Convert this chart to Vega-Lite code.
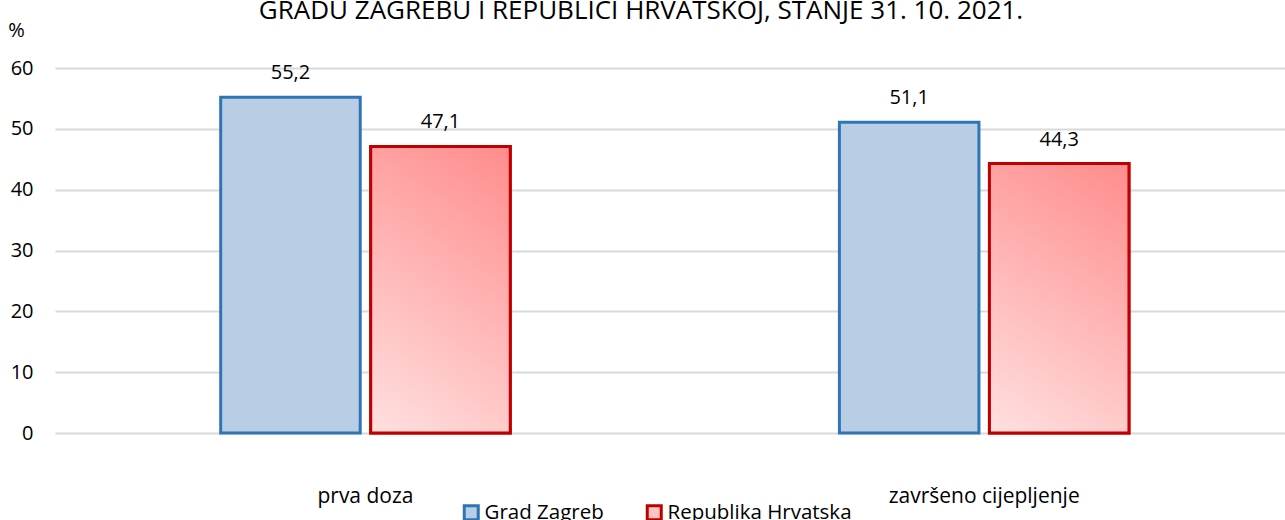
{
  "$schema": "https://vega.github.io/schema/vega-lite/v6.json",
  "width": 1230,
  "height": 365,
  "autosize": "none",
  "padding": {"left": 55, "top": 68, "right": 0, "bottom": 87},
  "background": "white",
  "title": {
    "text": "GRADU ZAGREBU I REPUBLICI HRVATSKOJ, STANJE 31. 10. 2021.",
    "font": "Open Sans",
    "fontSize": 26,
    "fontWeight": "normal",
    "color": "#000000",
    "anchor": "middle",
    "frame": "group",
    "dx": -29,
    "dy": 4,
    "offset": 0
  },
  "config": {
    "view": {"stroke": null},
    "font": "Open Sans",
    "locale": {"number": {"decimal": ",", "thousands": ".", "grouping": [3], "currency": ["", " €"]}}
  },
  "data": {
    "values": [
      {"kategorija": "prva doza", "serija": "Grad Zagreb", "postotak": 55.2},
      {"kategorija": "prva doza", "serija": "Republika Hrvatska", "postotak": 47.1},
      {"kategorija": "završeno cijepljenje", "serija": "Grad Zagreb", "postotak": 51.1},
      {"kategorija": "završeno cijepljenje", "serija": "Republika Hrvatska", "postotak": 44.3}
    ]
  },
  "encoding": {
    "x": {
      "field": "kategorija",
      "type": "nominal",
      "sort": ["prva doza", "završeno cijepljenje"],
      "scale": {"paddingInner": 0.532, "paddingOuter": 0.26, "align": 0.515},
      "axis": {
        "title": null,
        "labelAngle": 0,
        "domain": false,
        "ticks": false,
        "labelPadding": 52,
        "labelLimit": 0,
        "labelFont": "Open Sans",
        "labelFontSize": 21,
        "labelColor": "#000000",
        "labelBaseline": "top"
      }
    },
    "xOffset": {
      "field": "serija",
      "type": "nominal",
      "sort": ["Grad Zagreb", "Republika Hrvatska"],
      "scale": {"paddingInner": 0.07, "paddingOuter": 0}
    },
    "y": {
      "field": "postotak",
      "type": "quantitative",
      "scale": {"domain": [0, 60], "nice": false},
      "axis": {
        "values": [0, 10, 20, 30, 40, 50, 60],
        "format": "d",
        "title": "%",
        "titleAngle": 0,
        "titleX": -39,
        "titleY": -38,
        "titleAlign": "center",
        "titleBaseline": "middle",
        "titleFont": "Open Sans",
        "titleFontSize": 20,
        "titleFontWeight": "normal",
        "titleColor": "#000000",
        "domain": false,
        "ticks": false,
        "labelPadding": 22,
        "labelFont": "Open Sans",
        "labelFontSize": 20,
        "labelColor": "#000000",
        "gridColor": "#D9D9D9",
        "gridWidth": 2
      }
    }
  },
  "layer": [
    {
      "mark": {"type": "bar", "strokeWidth": 3},
      "encoding": {
        "fill": {
          "field": "serija",
          "type": "nominal",
          "scale": {"domain": ["Grad Zagreb", "Republika Hrvatska"], "range": ["#B9CDE5", "#FFC4C4"]},
          "legend": {
            "title": null,
            "orient": "none",
            "direction": "horizontal",
            "legendX": 406,
            "legendY": 434,
            "symbolType": "square",
            "symbolSize": 196,
            "symbolStrokeWidth": 3,
            "labelFont": "Open Sans",
            "labelFontSize": 20.5,
            "labelColor": "#000000",
            "labelLimit": 0,
            "columnPadding": 37,
            "labelOffset": 3
          }
        },
        "stroke": {
          "field": "serija",
          "type": "nominal",
          "scale": {"domain": ["Grad Zagreb", "Republika Hrvatska"], "range": ["#2E75B6", "#C00000"]}
        }
      }
    },
    {
      "transform": [{"filter": "datum.serija === 'Republika Hrvatska'"}],
      "mark": {
        "type": "bar",
        "strokeWidth": 3,
        "stroke": "#C00000",
        "fill": {
          "gradient": "linear",
          "x1": 0,
          "y1": 1,
          "x2": 0.4,
          "y2": -0.2,
          "stops": [
            {"offset": 0, "color": "#FFE0E0"},
            {"offset": 1, "color": "#FF8C8C"}
          ]
        }
      },
      "encoding": {}
    },
    {
      "mark": {
        "type": "text",
        "baseline": "bottom",
        "dy": -14,
        "font": "Open Sans",
        "fontSize": 20,
        "color": "#000000"
      },
      "encoding": {
        "text": {"field": "postotak", "type": "quantitative", "format": ".1f"}
      }
    }
  ]
}
